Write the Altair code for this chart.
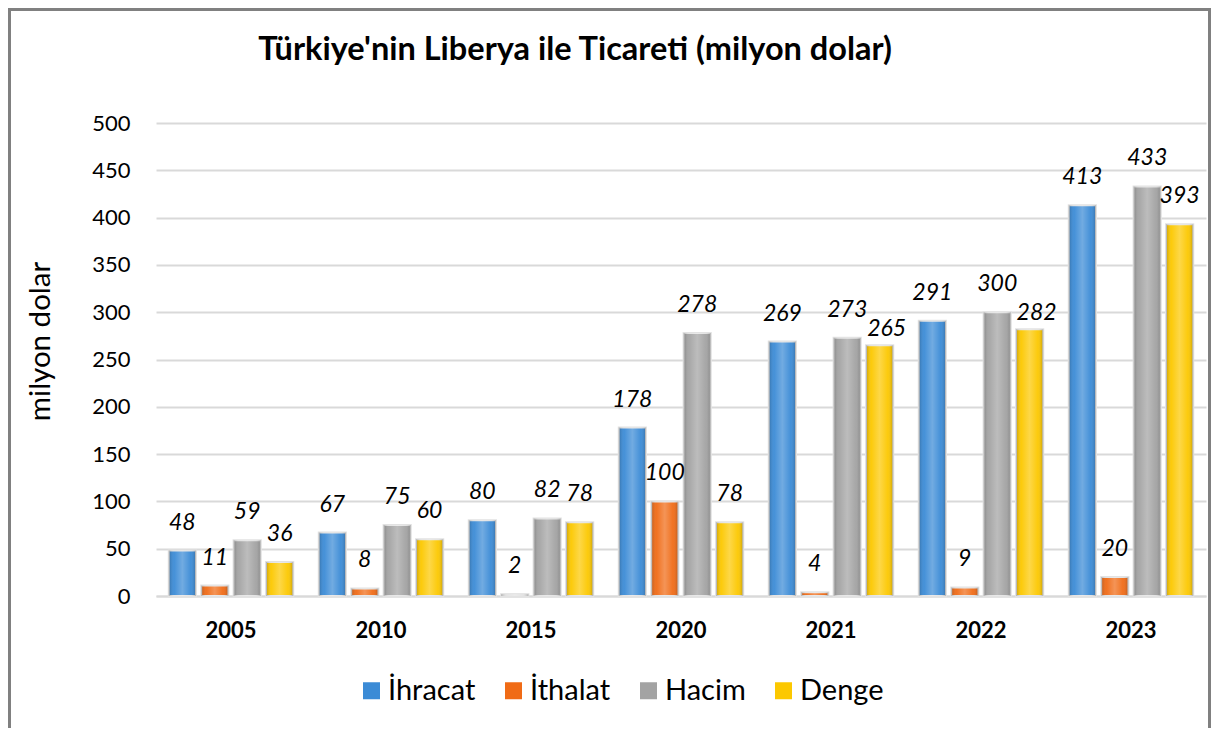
import altair as alt
import pandas as pd

years = ["2005", "2010", "2015", "2020", "2021", "2022", "2023"]
series = ["İhracat", "İthalat", "Hacim", "Denge"]
ihracat = [48, 67, 80, 178, 269, 291, 413]
ithalat = [11, 8, 2, 100, 4, 9, 20]
hacim = [59, 75, 82, 278, 273, 300, 433]
denge = [36, 60, 78, 78, 265, 282, 393]
colors = ["#3b8bd6", "#f06b16", "#a3a3a3", "#fcc800"]
title_text = "Türkiye'nin Liberya ile Ticareti (milyon dolar)"
y_ticks = list(range(0, 501, 50))

rows = []
for i, yr in enumerate(years):
    for s, vals in zip(series, [ihracat, ithalat, hacim, denge]):
        # label collision rule: a 3-digit Denge label close to the Hacim label is set lower
        lowered = int(s == "Denge" and vals[i] >= 100 and hacim[i] - vals[i] < 20)
        rows.append({"Yıl": yr, "Seri": s, "Değer": vals[i], "low": lowered})
df = pd.DataFrame(rows)

FONT = "Lato"

x_enc = alt.X(
    "Yıl:N",
    sort=years,
    scale=alt.Scale(domain=years, paddingInner=0.17, paddingOuter=0.085),
    axis=alt.Axis(
        title=None, labelAngle=0, labelFontSize=22, labelFontWeight="bold",
        labelColor="black", labelPadding=24, ticks=False, tickSize=0,
        domain=True, domainColor="#d9d9d9", domainWidth=2, grid=False,
        labelBaseline="top",
    ),
)
xo_enc = alt.XOffset(
    "Seri:N", sort=series,
    scale=alt.Scale(domain=series, paddingInner=0.16, paddingOuter=0),
)
y_enc = alt.Y(
    "Değer:Q",
    scale=alt.Scale(domain=[0, 500], nice=False),
    axis=alt.Axis(
        title="milyon dolar", values=y_ticks, labelFontSize=22,
        labelColor="black", labelPadding=26, ticks=False, tickSize=0,
        domain=False, grid=True, gridColor="#d9d9d9", gridWidth=2,
        titleFontSize=29.5, titleFontWeight="normal", titleColor="black",
        titleX=-116, titleY=218, titleAlign="center", titleBaseline="middle",
    ),
)

bars = alt.Chart(df).mark_bar(stroke="#e2e2e2", strokeWidth=2).encode(
    x=x_enc, xOffset=xo_enc, y=y_enc,
    color=alt.Color(
        "Seri:N", sort=series,
        scale=alt.Scale(domain=series, range=colors),
        legend=alt.Legend(
            title=None, orient="none", legendX=201, legendY=553,
            direction="horizontal", symbolType="square", symbolSize=289,
            symbolStrokeWidth=0, labelFontSize=29, labelColor="black",
            labelOffset=2, columnPadding=23,
        ),
    ),
)

sheen_grad = alt.LinearGradient(
    gradient="linear", x1=0, x2=1, y1=0, y2=0,
    stops=[
        alt.GradientStop(offset=0, color="rgba(0,0,0,0.22)"),
        alt.GradientStop(offset=0.2, color="rgba(255,255,255,0.05)"),
        alt.GradientStop(offset=0.5, color="rgba(255,255,255,0.28)"),
        alt.GradientStop(offset=0.8, color="rgba(255,255,255,0.05)"),
        alt.GradientStop(offset=1, color="rgba(0,0,0,0.22)"),
    ],
)
sheen = alt.Chart(df).mark_bar(fill=sheen_grad).encode(
    x=x_enc, xOffset=xo_enc, y=y_enc,
)

labels = alt.Chart(df).transform_filter("datum.low == 0").mark_text(
    fontSize=23, fontStyle="italic", dy=-28, baseline="middle", color="black",
).encode(x=x_enc, xOffset=xo_enc, y=y_enc, text="Değer:Q")

labels_low = alt.Chart(df).transform_filter("datum.low == 1").mark_text(
    fontSize=23, fontStyle="italic", dy=-16, dx=7, baseline="middle", color="black",
).encode(x=x_enc, xOffset=xo_enc, y=y_enc, text="Değer:Q")

deco = pd.DataFrame({"t": [title_text]})
title = alt.Chart(deco).mark_text(
    fontSize=32.5, fontWeight="bold", align="center", baseline="alphabetic",
    color="black",
).encode(x=alt.value(419), y=alt.value(-63), text="t:N")

frame = alt.Chart(deco).mark_rect(
    fillOpacity=0, stroke="#808080", strokeWidth=3,
).encode(
    x=alt.value(-146.5), x2=alt.value(1053.5),
    y=alt.value(-113.5), y2=alt.value(700),
)

chart = alt.layer(frame, bars, sheen, labels, labels_low, title).properties(
    width=1050, height=473,
    padding={"left": 148, "top": 115, "right": 5, "bottom": 132},
    autosize=alt.AutoSizeParams(type="none"),
    background="white",
).configure(font=FONT).configure_view(stroke="transparent")

chart.save("out.html", embed_options={"renderer": "svg", "actions": False})
